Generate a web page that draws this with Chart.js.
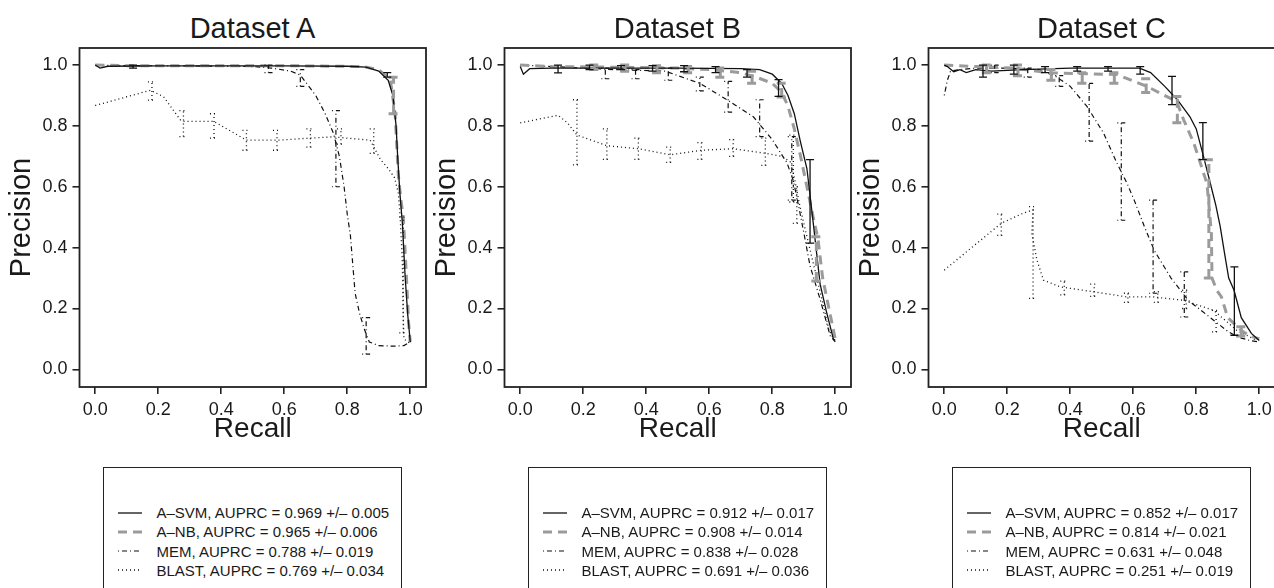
<!DOCTYPE html>
<html>
<head>
<meta charset="utf-8">
<script src="https://cdn.jsdelivr.net/npm/chart.js@4.4.1/dist/chart.umd.min.js"></script>
<style>
  body { margin: 0; width: 1274px; height: 588px; overflow: hidden; background: #fff; font-family: "Liberation Sans", Arial, sans-serif; color: #1a1a1a; }
  .panel { position: absolute; top: 0; width: 430px; height: 588px; }
  .panel canvas { position: absolute; left: 0; top: 0; }
  .title { position: absolute; left: 79.5px; width: 346px; top: 11px; text-align: center; font-size: 29px; line-height: 35px; }
  .legend { position: absolute; left: 102.5px; top: 466.5px; width: 299px; height: 140px; border: 1.3px solid #222; box-sizing: border-box; }
  .row { position: absolute; left: 14px; height: 19px; display: flex; align-items: center; font-size: 15px; white-space: nowrap; }
  .row svg { margin-right: 15px; }
</style>
</head>
<body>
<script>
const recallTicks = [0, 0.2, 0.4, 0.6, 0.8, 1.0]
const precisionTicks = [0, 0.2, 0.4, 0.6, 0.8, 1.0]
const seriesNames = ['A\u2013SVM', 'A\u2013NB', 'MEM', 'BLAST']
const datasetTitles = ['Dataset A', 'Dataset B', 'Dataset C']

const auprcA = [0.969, 0.965, 0.788, 0.769]
const sdA = [0.005, 0.006, 0.019, 0.034]
const auprcB = [0.912, 0.908, 0.838, 0.691]
const sdB = [0.017, 0.014, 0.028, 0.036]
const auprcC = [0.852, 0.814, 0.631, 0.251]
const sdC = [0.017, 0.021, 0.048, 0.019]

// Dataset A
const aSvmRecall = [0, 0.015, 0.04, 0.2, 0.4, 0.6, 0.8, 0.86, 0.9, 0.93, 0.945, 0.955, 0.96, 0.967, 0.975, 0.984, 0.992, 1.0]
const aSvmPrecision = [1.0, 0.99, 0.996, 0.997, 0.997, 0.997, 0.996, 0.993, 0.98, 0.95, 0.9, 0.8, 0.7, 0.58, 0.48, 0.3, 0.18, 0.09]
const aSvmErr = [[0.12, 0.99, 1.0], [0.927, 0.96, 0.975]]
const aNbRecall = [0, 0.1, 0.3, 0.5, 0.7, 0.85, 0.9, 0.937, 0.952, 0.962, 0.97, 0.978, 0.984, 0.99, 0.995, 1.0]
const aNbPrecision = [1.0, 0.998, 0.998, 0.998, 0.997, 0.995, 0.985, 0.95, 0.84, 0.64, 0.56, 0.5, 0.38, 0.26, 0.15, 0.09]
const aNbErr = [[0.947, 0.84, 0.96]]
const aMemRecall = [0, 0.1, 0.3, 0.5, 0.56, 0.62, 0.651, 0.7, 0.73, 0.756, 0.775, 0.79, 0.8, 0.81, 0.825, 0.84, 0.855, 0.87, 0.9, 0.95, 0.98, 1.0]
const aMemPrecision = [1.0, 0.998, 0.997, 0.995, 0.99, 0.98, 0.967, 0.9, 0.84, 0.776, 0.7, 0.6, 0.51, 0.44, 0.25, 0.18, 0.13, 0.09, 0.078, 0.076, 0.078, 0.09]
const aMemErr = [[0.55, 0.975, 1.0], [0.651, 0.93, 0.985], [0.764, 0.6, 0.85], [0.86, 0.05, 0.17]]
const aBlastRecall = [0, 0.175, 0.217, 0.27, 0.28, 0.376, 0.48, 0.577, 0.683, 0.756, 0.873, 0.905, 0.93, 0.95, 0.962, 0.968, 0.975, 0.977, 0.98, 1.0]
const aBlastPrecision = [0.867, 0.917, 0.896, 0.82, 0.815, 0.815, 0.753, 0.753, 0.76, 0.764, 0.753, 0.69, 0.66, 0.63, 0.58, 0.5, 0.35, 0.2, 0.1, 0.085]
const aBlastErr = [[0.18, 0.885, 0.945], [0.28, 0.765, 0.85], [0.377, 0.76, 0.84], [0.48, 0.72, 0.785], [0.577, 0.72, 0.785], [0.683, 0.73, 0.79], [0.78, 0.74, 0.79], [0.884, 0.71, 0.79], [0.978, 0.12, 0.5]]

// Dataset B
const bSvmRecall = [0, 0.01, 0.03, 0.1, 0.3, 0.5, 0.7, 0.76, 0.8, 0.83, 0.85, 0.87, 0.889, 0.91, 0.928, 0.952, 0.972, 0.994, 1.0]
const bSvmPrecision = [0.995, 0.97, 0.988, 0.99, 0.99, 0.99, 0.988, 0.985, 0.97, 0.94, 0.9, 0.84, 0.75, 0.66, 0.5, 0.28, 0.19, 0.1, 0.095]
const bSvmErr = [[0.12, 0.974, 1.0], [0.22, 0.985, 1.0], [0.32, 0.985, 0.998], [0.42, 0.98, 0.998], [0.52, 0.978, 0.998], [0.62, 0.975, 0.995], [0.72, 0.96, 0.985], [0.82, 0.897, 0.952], [0.92, 0.415, 0.689]]
const bNbRecall = [0, 0.1, 0.3, 0.5, 0.6, 0.7, 0.75, 0.8, 0.83, 0.85, 0.87, 0.89, 0.91, 0.93, 0.945, 0.96, 0.98, 1.0]
const bNbPrecision = [1.0, 0.995, 0.993, 0.99, 0.985, 0.975, 0.96, 0.94, 0.91, 0.865, 0.79, 0.7, 0.6, 0.5, 0.43, 0.3, 0.2, 0.1]
const bNbErr = [[0.235, 0.985, 1.0], [0.333, 0.98, 1.0], [0.434, 0.975, 0.998], [0.533, 0.975, 0.995], [0.635, 0.96, 0.99], [0.736, 0.94, 0.98], [0.83, 0.895, 0.94], [0.94, 0.29, 0.436]]
const bMemRecall = [0, 0.1, 0.2, 0.3, 0.46, 0.57, 0.656, 0.74, 0.8, 0.847, 0.867, 0.885, 0.9, 0.92, 0.952, 0.984, 1.0]
const bMemPrecision = [1.0, 0.995, 0.99, 0.985, 0.98, 0.94, 0.886, 0.83, 0.755, 0.678, 0.62, 0.53, 0.45, 0.34, 0.23, 0.11, 0.09]
const bMemErr = [[0.27, 0.955, 0.99], [0.366, 0.955, 0.985], [0.47, 0.95, 0.99], [0.57, 0.915, 0.96], [0.66, 0.845, 0.946], [0.76, 0.765, 0.886], [0.862, 0.556, 0.765]]
const bBlastRecall = [0, 0.12, 0.15, 0.18, 0.275, 0.375, 0.476, 0.575, 0.676, 0.778, 0.83, 0.86, 0.872, 0.885, 0.9, 0.93, 0.96, 0.98, 1.0]
const bBlastPrecision = [0.81, 0.835, 0.81, 0.77, 0.735, 0.725, 0.705, 0.72, 0.725, 0.71, 0.7, 0.68, 0.62, 0.55, 0.48, 0.35, 0.22, 0.13, 0.09]
const bBlastErr = [[0.18, 0.672, 0.886], [0.275, 0.69, 0.79], [0.375, 0.69, 0.76], [0.476, 0.68, 0.73], [0.575, 0.69, 0.745], [0.676, 0.7, 0.755], [0.778, 0.67, 0.76], [0.867, 0.55, 0.77], [0.878, 0.48, 0.6]]

// Dataset C
const cSvmRecall = [0, 0.01, 0.03, 0.05, 0.07, 0.1, 0.15, 0.25, 0.4, 0.55, 0.62, 0.655, 0.7, 0.74, 0.78, 0.8, 0.823, 0.845, 0.862, 0.876, 0.89, 0.903, 0.92, 0.943, 0.975, 1.0]
const cSvmPrecision = [1.0, 0.995, 0.978, 0.985, 0.975, 0.985, 0.98, 0.985, 0.99, 0.99, 0.99, 0.975, 0.93, 0.886, 0.83, 0.79, 0.7, 0.61, 0.54, 0.47, 0.38, 0.3, 0.26, 0.17, 0.118, 0.095]
const cSvmErr = [[0.123, 0.96, 1.0], [0.221, 0.97, 1.0], [0.32, 0.975, 0.995], [0.422, 0.98, 0.995], [0.52, 0.98, 0.995], [0.622, 0.97, 0.995], [0.723, 0.87, 0.963], [0.821, 0.689, 0.811], [0.921, 0.112, 0.337]]
const cNbRecall = [0, 0.1, 0.22, 0.336, 0.43, 0.548, 0.643, 0.738, 0.76, 0.792, 0.813, 0.834, 0.842, 0.848, 0.85, 0.865, 0.88, 0.9, 0.943, 0.97, 1.0]
const cNbPrecision = [1.0, 0.995, 0.99, 0.974, 0.972, 0.969, 0.93, 0.88, 0.82, 0.744, 0.678, 0.61, 0.52, 0.446, 0.3, 0.26, 0.238, 0.17, 0.128, 0.11, 0.1]
const cNbErr = [[0.135, 0.975, 1.0], [0.234, 0.965, 1.0], [0.34, 0.95, 0.985], [0.438, 0.94, 0.975], [0.54, 0.94, 0.975], [0.641, 0.91, 0.955], [0.74, 0.81, 0.897], [0.84, 0.3, 0.689], [0.943, 0.11, 0.14]]
const cMemRecall = [0, 0.01, 0.02, 0.05, 0.1, 0.2, 0.3, 0.35, 0.4, 0.453, 0.506, 0.548, 0.58, 0.603, 0.635, 0.667, 0.72, 0.774, 0.82, 0.857, 0.9, 0.932, 0.97, 1.0]
const cMemPrecision = [0.9, 0.95, 0.98, 0.985, 0.99, 0.99, 0.985, 0.965, 0.93, 0.864, 0.776, 0.678, 0.612, 0.556, 0.47, 0.39, 0.3, 0.227, 0.19, 0.16, 0.125, 0.106, 0.095, 0.09]
const cMemErr = [[0.16, 0.975, 1.0], [0.265, 0.96, 0.99], [0.365, 0.93, 0.965], [0.46, 0.75, 0.94], [0.562, 0.49, 0.81], [0.663, 0.25, 0.556], [0.762, 0.172, 0.32]]
const cBlastRecall = [0, 0.181, 0.25, 0.282, 0.278, 0.294, 0.315, 0.368, 0.474, 0.58, 0.664, 0.76, 0.855, 0.929, 0.993]
const cBlastPrecision = [0.326, 0.48, 0.513, 0.524, 0.447, 0.36, 0.293, 0.271, 0.255, 0.238, 0.238, 0.227, 0.194, 0.128, 0.095]
const cBlastErr = [[0.181, 0.44, 0.51], [0.282, 0.233, 0.535], [0.381, 0.245, 0.29], [0.476, 0.24, 0.28], [0.583, 0.22, 0.25], [0.678, 0.22, 0.255], [0.768, 0.2, 0.26], [0.863, 0.123, 0.194]]

// line looks for A-SVM, A-NB, MEM, BLAST
const lineStyles = [
    { color: '#111', width: 1.3, dash: [] },
    { color: '#9b9b9b', width: 3, dash: [9, 6] },
    { color: '#111', width: 1.2, dash: [1, 3, 5, 3] },
    { color: '#111', width: 1.3, dash: [1, 3] }
]

const panels = [
    { left: 0, auprc: auprcA, sd: sdA, curves: [[aSvmRecall, aSvmPrecision, aSvmErr], [aNbRecall, aNbPrecision, aNbErr], [aMemRecall, aMemPrecision, aMemErr], [aBlastRecall, aBlastPrecision, aBlastErr]] },
    { left: 425, auprc: auprcB, sd: sdB, curves: [[bSvmRecall, bSvmPrecision, bSvmErr], [bNbRecall, bNbPrecision, bNbErr], [bMemRecall, bMemPrecision, bMemErr], [bBlastRecall, bBlastPrecision, bBlastErr]] },
    { left: 849, auprc: auprcC, sd: sdC, curves: [[cSvmRecall, cSvmPrecision, cSvmErr], [cNbRecall, cNbPrecision, cNbErr], [cMemRecall, cMemPrecision, cMemErr], [cBlastRecall, cBlastPrecision, cBlastErr]] }
]

const boxPlugin = {
    id: 'box',
    afterDraw(chart) {
        const { ctx, chartArea: a } = chart
        ctx.save()
        ctx.strokeStyle = '#222'
        ctx.lineWidth = 1.8
        ctx.strokeRect(a.left, a.top, a.right - a.left, a.bottom - a.top)
        ctx.restore()
    }
}

const errorBarPlugin = {
    id: 'errorBars',
    afterDatasetsDraw(chart) {
        const { ctx, chartArea: a, scales: { x, y } } = chart
        ctx.save()
        ctx.beginPath()
        ctx.rect(a.left, a.top, a.right - a.left, a.bottom - a.top)
        ctx.clip()
        chart.data.datasets.slice().reverse().forEach(ds => {
            const cap = ds.borderWidth > 2 ? 5 : 4
            ctx.strokeStyle = ds.borderColor
            ctx.lineWidth = ds.borderWidth
            ctx.setLineDash(ds.borderDash)
            ds.errorBars.forEach(([r, lo, hi]) => {
                const px = x.getPixelForValue(r)
                const p1 = y.getPixelForValue(lo)
                const p2 = y.getPixelForValue(hi)
                ctx.beginPath()
                ctx.moveTo(px, p1); ctx.lineTo(px, p2)
                ctx.moveTo(px - cap, p1); ctx.lineTo(px + cap, p1)
                ctx.moveTo(px - cap, p2); ctx.lineTo(px + cap, p2)
                ctx.stroke()
            })
        })
        ctx.restore()
    }
}

Chart.defaults.font.family = '"Liberation Sans", Arial, sans-serif'
Chart.defaults.color = '#1a1a1a'

panels.forEach((p, i) => {
    const div = document.createElement('div')
    div.className = 'panel'
    div.style.left = p.left + 'px'
    document.body.appendChild(div)

    const title = document.createElement('div')
    title.className = 'title'
    title.textContent = datasetTitles[i]
    div.appendChild(title)

    const canvas = document.createElement('canvas')
    canvas.width = 430
    canvas.height = 446
    div.appendChild(canvas)

    const legend = document.createElement('div')
    legend.className = 'legend'
    seriesNames.forEach((name, k) => {
        const s = lineStyles[k]
        const row = document.createElement('div')
        row.className = 'row'
        row.style.top = (35.5 + k * 19.3) + 'px'
        row.innerHTML = '<svg width="24" height="10"><line x1="0" y1="5" x2="24" y2="5" stroke="' + s.color +
            '" stroke-width="' + s.width + '" stroke-dasharray="' + (s.dash.length ? s.dash.join(' ') : 'none') + '"/></svg>' +
            '<span>' + name + ', AUPRC = ' + p.auprc[k].toFixed(3) + ' +/\u2013 ' + p.sd[k].toFixed(3) + '</span>'
        legend.appendChild(row)
    })
    div.appendChild(legend)

    new Chart(canvas, {
        type: 'scatter',
        data: {
            datasets: p.curves.map(([rec, prec, err], k) => ({
                label: seriesNames[k],
                data: rec.map((r, j) => ({ x: r, y: prec[j] })),
                errorBars: err,
                showLine: true,
                borderColor: lineStyles[k].color,
                borderWidth: lineStyles[k].width,
                borderDash: lineStyles[k].dash,
                pointRadius: 0,
                tension: 0
            }))
        },
        options: {
            responsive: false,
            animation: false,
            devicePixelRatio: 1,
            layout: { padding: { left: 0, right: 4, top: 48, bottom: 0 } },
            plugins: { legend: { display: false }, tooltip: { enabled: false } },
            scales: {
                x: {
                    type: 'linear',
                    min: -0.05,
                    max: 1.05,
                    afterBuildTicks: s => { s.ticks = recallTicks.map(v => ({ value: v })) },
                    afterFit: s => { s.height = 59 },
                    ticks: { callback: v => v.toFixed(1), font: { size: 18 }, padding: 5, maxRotation: 0, autoSkip: false },
                    grid: { drawOnChartArea: false, tickLength: 7, color: '#222', lineWidth: 1.6 },
                    border: { display: false },
                    title: { display: true, text: 'Recall', font: { size: 28 }, padding: { top: 0, bottom: 0 } }
                },
                y: {
                    type: 'linear',
                    min: -0.058,
                    max: 1.056,
                    afterBuildTicks: s => { s.ticks = precisionTicks.map(v => ({ value: v })) },
                    afterFit: s => { s.width = 79.5 },
                    ticks: { callback: v => v.toFixed(1), font: { size: 18 }, padding: 5, autoSkip: false },
                    grid: { drawOnChartArea: false, tickLength: 7, color: '#222', lineWidth: 1.6 },
                    border: { display: false },
                    title: { display: true, text: 'Precision', font: { size: 29 }, padding: { top: 5, bottom: 0 } }
                }
            }
        },
        plugins: [boxPlugin, errorBarPlugin]
    })
})
</script>
</body>
</html>
